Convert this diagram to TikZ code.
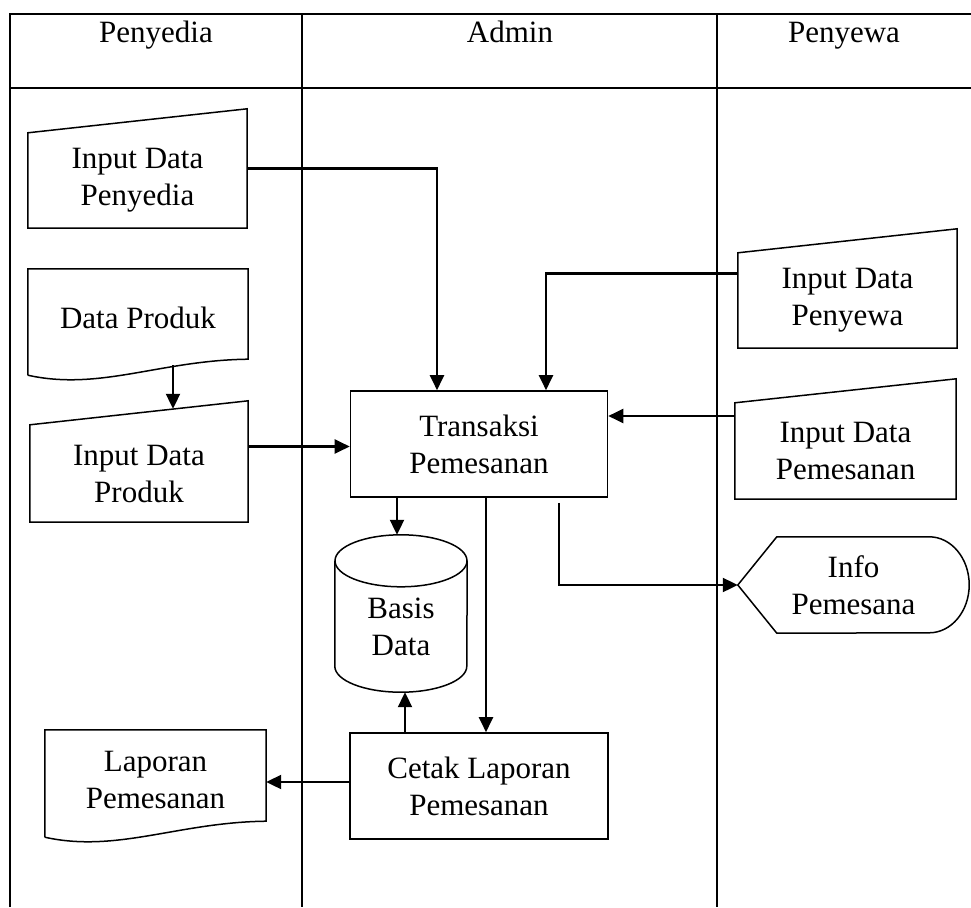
\documentclass[tikz,border=0pt]{standalone}
\usepackage{fontspec}
\setmainfont{Liberation Serif}
\usetikzlibrary{arrows.meta}
\tikzstyle{lane}=[draw, line width=2.1pt, black]
\tikzstyle{head}=[font=\fontsize{31}{37}\selectfont, anchor=base]
\tikzstyle{box}=[rectangle, inner sep=0pt, align=center, font=\fontsize{31}{37}\selectfont]
\tikzstyle{process} = [box, draw, line width=1.6pt]
\tikzstyle{outline} = [draw, line width=1.5pt, black]
\tikzstyle{flow} = [draw, line width=2.1pt, -{Triangle[length=15pt,width=14pt]}]

\begin{document}
\begin{tikzpicture}[x=1pt, y=-1pt]

					\useasboundingbox (0,0) rectangle (971,907);

					% swimlanes
					\draw[lane] (10,907) -- (10,14) -- (971,14);
					\draw[lane] (10,88) -- (971,88);
					\foreach \lx in {302, 717}{
						\draw[lane] (\lx,14) -- (\lx,907);
					}

					\node[head] (hpenyedia) at (156,43) {Penyedia};
					\node[head] (hadmin) at (510,43) {Admin};
					\node[head] (hpenyewa) at (844,43) {Penyewa};

					% penyedia
					\node[box, minimum width=219pt, minimum height=95pt] (ipenyedia) at (137.5,180.5) {Input Data\\Penyedia};
					\node[box, minimum width=220pt, minimum height=98pt] (dproduk) at (138,318) {Data Produk};
					\node[box, minimum width=218pt, minimum height=97pt] (iproduk) at (139,473.5) {Input Data\\Produk};
					\node[box, minimum width=221pt, minimum height=99pt] (laporan) at (155.5,779.5) {Laporan\\Pemesanan};

					% admin
					\node[process, minimum width=257pt, minimum height=106pt] (transaksi) at (479,444) {Transaksi\\Pemesanan};
					\node[box, minimum width=132pt, minimum height=131pt] (basis) at (401,626.5) {Basis\\Data};
					\node[process, minimum width=258pt, minimum height=106pt] (cetak) at (479,786) {Cetak Laporan\\Pemesanan};

					% penyewa
					\node[box, minimum width=219pt, minimum height=95pt] (ipenyewa) at (847.5,300.5) {Input Data\\Penyewa};
					\node[box, minimum width=221pt, minimum height=96pt] (ipemesanan) at (845.5,451) {Input Data\\Pemesanan};
					\node[box, minimum width=231pt, minimum height=96pt] (info) at (853.5,585) {Info\\Pemesana};

					\foreach \n in {ipenyedia, iproduk, ipenyewa, ipemesanan}{
						\draw[outline] (\n.south west) -- (\n.south east) -- ([yshift=24pt]\n.north east) -- (\n.north west) -- cycle;
					}

					\foreach \n in {dproduk, laporan}{
						\draw[outline] ([yshift=-8pt]\n.south west) -- (\n.north west) -- (\n.north east) -- ([yshift=8pt]\n.south east)
							.. controls +(-88,1) and +(72,16) .. ([yshift=-8pt]\n.south west);
					}

					\draw[outline] (basis.north west) -- ([yshift=26pt]basis.south west) arc (180:360:66pt and 26pt) -- (basis.north east);
					\draw[outline] (basis.north) ellipse (66pt and 26pt);

					\draw[outline] (info.west) -- ([xshift=39pt]info.north west) -- ([xshift=-40pt]info.north east)
						arc (90:-90:40pt and 48pt) -- ([xshift=39pt]info.south west) -- cycle;

					\draw[flow] ([yshift=12pt]ipenyedia.east) -| ([xshift=-42pt]transaksi.north);
					\draw[flow] ([yshift=27pt]ipenyewa.west) -| ([xshift=67pt]transaksi.north);
					\draw[flow] ([xshift=35pt,yshift=2pt]dproduk.south) -- ([xshift=34pt,yshift=16pt]iproduk.north);
					\draw[flow] ([yshift=27pt]iproduk.east) -- ([yshift=27pt]iproduk.east -| transaksi.west);
					\draw[flow] ([yshift=35pt]ipemesanan.west) -- ([yshift=35pt]ipemesanan.west -| transaksi.east);

					\draw[flow] ([xshift=-4pt]transaksi.south -| basis.north) -- ([xshift=-4pt,yshift=26pt]basis.north);
					\draw[flow] ([xshift=7pt]transaksi.south) -- ([xshift=7pt]cetak.north);
					\draw[flow] ([xshift=80pt,yshift=-5pt]transaksi.south) |- (info.west);
					\draw[flow] ([xshift=4pt]cetak.north -| basis.south) -- ([xshift=4pt]basis.south);
					\draw[flow] ([yshift=4pt]cetak.west) -- ([yshift=4pt]cetak.west -| laporan.east);

\end{tikzpicture}
\end{document}
